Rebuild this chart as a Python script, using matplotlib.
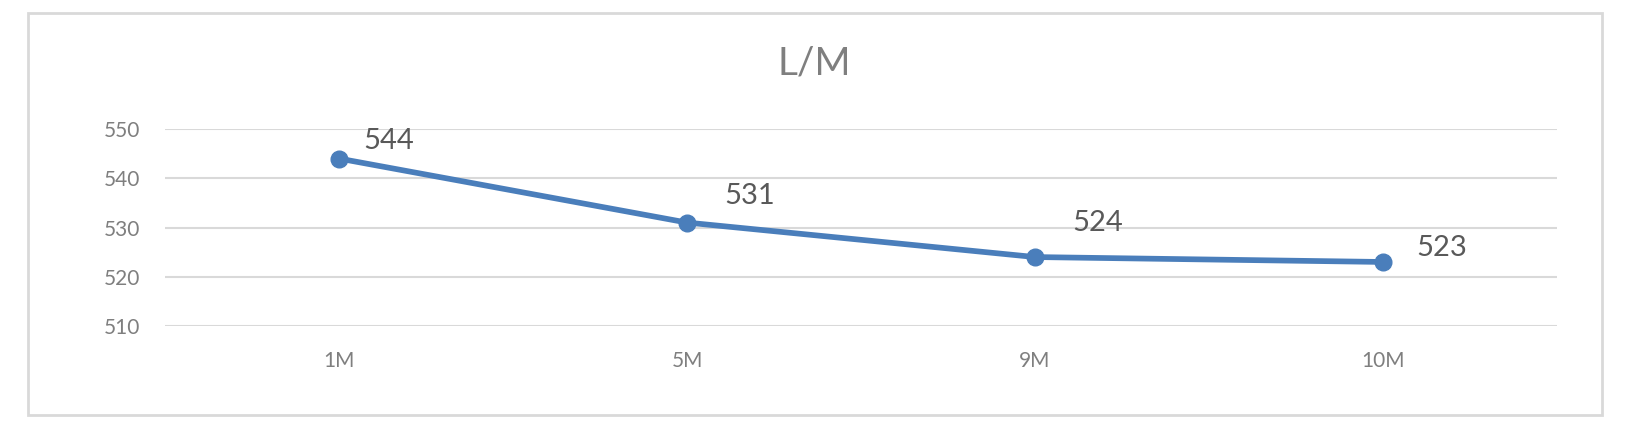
import matplotlib.pyplot as plt
from matplotlib.patches import Rectangle

# Data
categories = ['1M', '5M', '9M', '10M']
values = [544, 531, 524, 523]
yticks = [510, 520, 530, 540, 550]
title = 'L/M'

# label offsets in pixels (x right, y up)
label_offsets = [(24, 18), (37, 27), (37, 34), (33, 14)]

plt.rcParams['font.family'] = ['Lato', 'DejaVu Sans']

fig = plt.figure(figsize=(16.29, 4.36), dpi=100)
ax = fig.add_axes([165 / 1629, 1 - 326 / 436, (1557 - 165) / 1629, (326 - 129) / 436])

x = [i + 0.5 for i in range(len(categories))]
ax.plot(x, values, color='#4a7ebb', lw=4.1, marker='o', markersize=12,
        solid_capstyle='round', zorder=3, clip_on=False)

for xi, v, (dx, dy) in zip(x, values, label_offsets):
    ax.annotate(str(v), (xi, v), xytext=(dx, dy), textcoords='offset pixels',
                ha='left', va='center', fontsize=21, color='#595959')

ax.set_xlim(0, len(categories))
ax.set_ylim(510, 550)
ax.set_xticks(x)
ax.set_xticklabels(categories)
ax.set_yticks(yticks)
ax.grid(axis='y', color='#d9d9d9', lw=1.5, zorder=0)
ax.set_axisbelow(True)
for s in ax.spines.values():
    s.set_visible(False)
ax.tick_params(axis='both', length=0, labelsize=15, colors='#7f7f7f')
ax.tick_params(axis='y', pad=18)
ax.tick_params(axis='x', pad=18)

fig.text(0.5, 1 - 63 / 436, title, ha='center', va='center', fontsize=28, color='#7f7f7f')

# chart border
fig.patches.append(Rectangle((28 / 1629, 1 - 415 / 436), (1602 - 28) / 1629, (415 - 13) / 436,
                             transform=fig.transFigure, fill=False, edgecolor='#d9d9d9', lw=2))

fig.savefig('out.png', dpi=100)
